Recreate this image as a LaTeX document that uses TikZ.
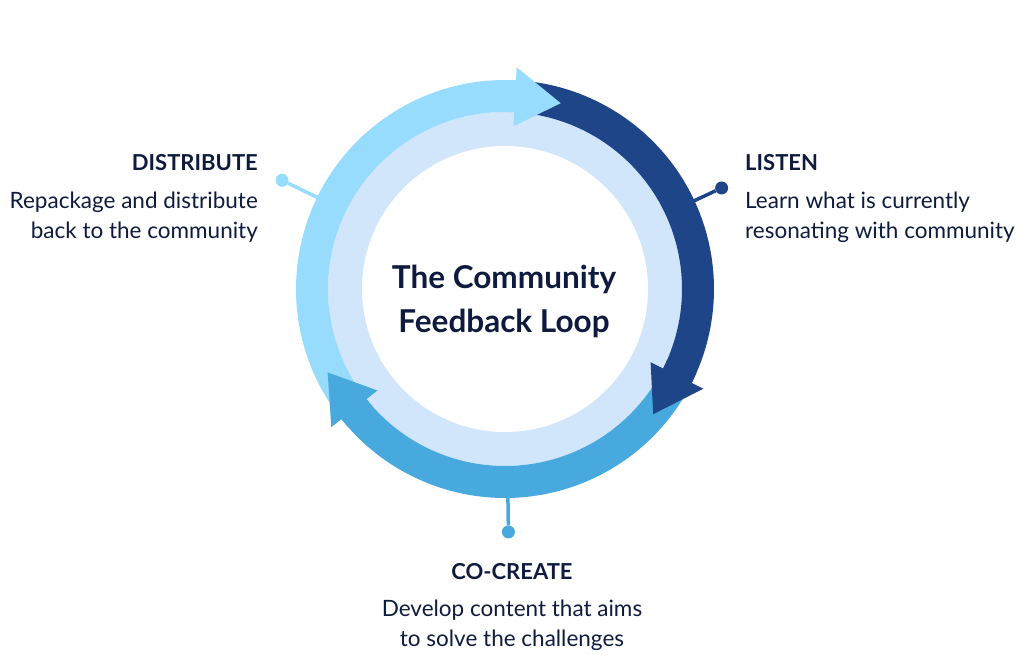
\documentclass[tikz,border=0pt]{standalone}
\usepackage{fontspec}
\setmainfont{Lato}
\definecolor{lightc}{HTML}{97DBFD}
\definecolor{ringc}{HTML}{D1E6FB}
\definecolor{darkc}{HTML}{1E4588}
\definecolor{medc}{HTML}{48A9DF}
\definecolor{txt}{HTML}{0E1B3E}
\tikzset{
  dotnode/.style={circle, inner sep=0pt, minimum size=13pt},
  conn/.style={line width=3.5pt},
  headtxt/.style={inner sep=0pt, text=txt, font=\fontsize{22}{26}\selectfont\bfseries},
  bodytxt/.style={inner sep=0pt, text=txt, font=\fontsize{22.5}{29.5}\selectfont},
  titletxt/.style={inner sep=0pt, text=txt, font=\fontsize{31.5}{44}\selectfont\bfseries},
}
\begin{document}
\begin{tikzpicture}[x=1pt,y=1pt]
\useasboundingbox (0,0) rectangle (1024,655);
\coordinate (c) at (505,366);
% inner ring
\fill[ringc] (c) circle (177);
\fill[white] (c) circle (143);
% connectors
\coordinate (dA) at ([shift={(154:200)}]c);
\node[dotnode, fill=lightc] (dD) at ([shift={(154:248)}]c) {};
\draw[conn, lightc] (dA) -- (dD);
\coordinate (lA) at ([shift={(25:200)}]c);
\node[dotnode, fill=darkc] (lD) at ([shift={(25:239)}]c) {};
\draw[conn, darkc] (lA) -- (lD);
\coordinate (cA) at ([shift={(-89.2:200)}]c);
\node[dotnode, fill=medc] (cD) at ([shift={(-89.2:243)}]c) {};
\draw[conn, medc] (cA) -- (cD);
% bands (each starts under the previous arrow head)
\fill[lightc] ([shift={(216.5:209)}]c) arc (216.5:87:209) -- ([shift={(87:177)}]c) arc (87:216.5:177) -- cycle;
\fill[darkc] ([shift={(85:209)}]c) arc (85:-26.7:209) -- ([shift={(-26.7:177)}]c) arc (-26.7:85:177) -- cycle;
\fill[medc] ([shift={(-28.7:209)}]c) arc (-28.7:-141.5:209) -- ([shift={(-141.5:177)}]c) arc (-141.5:-28.7:177) -- cycle;
% arrow heads (with a short piece of band to avoid seams)
\fill[lightc] ([shift={(90:209)}]c) arc (90:87:209) -- ([shift={(87:222)}]c) -- ([shift={(73.3:194)}]c) -- ([shift={(87:163)}]c) -- ([shift={(87:177)}]c) arc (87:90:177) -- cycle;
\fill[darkc] ([shift={(-23.7:209)}]c) arc (-23.7:-26.7:209) -- ([shift={(-26.7:222)}]c) -- ([shift={(-40.2:194)}]c) -- ([shift={(-26.7:163)}]c) -- ([shift={(-26.7:177)}]c) arc (-26.7:-23.7:177) -- cycle;
\fill[medc] ([shift={(221.5:209)}]c) arc (221.5:218.5:209) -- ([shift={(218.5:222)}]c) -- ([shift={(205.2:196)}]c) -- ([shift={(218.5:163)}]c) -- ([shift={(218.5:177)}]c) arc (218.5:221.5:177) -- cycle;
% title
\node[titletxt, anchor=base] (title) at (504,366) {\begin{tabular}[t]{@{}c@{}}The Community\\Feedback Loop\end{tabular}};
% labels
\node[headtxt, anchor=base east] (distH) at (258,484) {DISTRIBUTE};
\node[bodytxt, anchor=base east] (distB) at (258,446) {\begin{tabular}[t]{@{}r@{}}Repackage and distribute\\back to the community\end{tabular}};
\node[headtxt, anchor=base west] (listH) at (745,484) {LISTEN};
\node[bodytxt, anchor=base west] (listB) at (745,446) {\begin{tabular}[t]{@{}l@{}}Learn what is currently\\resonating with community\end{tabular}};
\node[headtxt, anchor=base] (coH) at (512,75) {CO-CREATE};
\node[bodytxt, anchor=base] (coB) at (512,38) {\begin{tabular}[t]{@{}c@{}}Develop content that aims\\to solve the challenges\end{tabular}};
\end{tikzpicture}
\end{document}
